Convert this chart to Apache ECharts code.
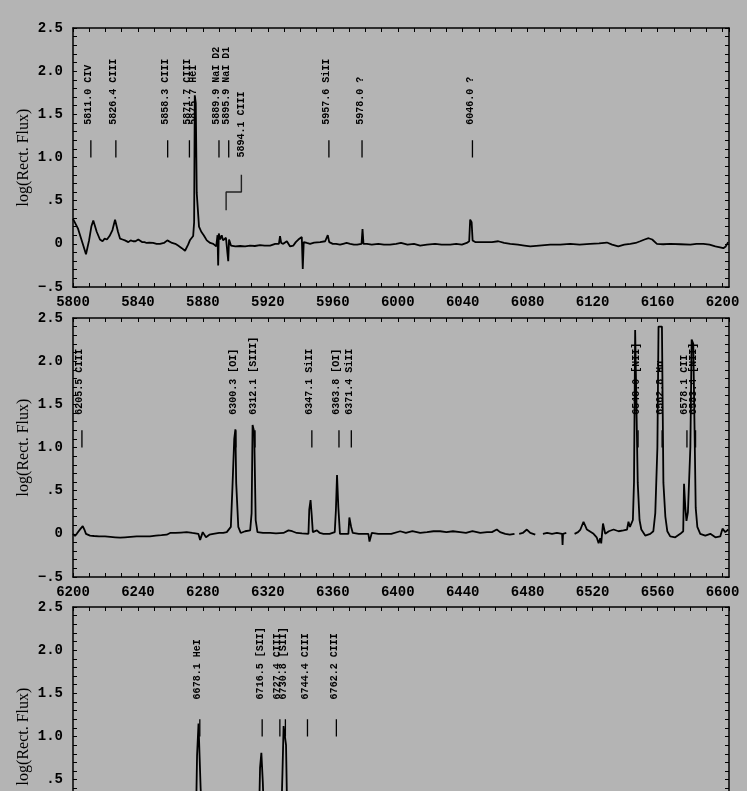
<!DOCTYPE html>
<html lang="en">
<head>
<meta charset="utf-8">
<title>Spectrum 5800-7000</title>
<script src="https://cdn.jsdelivr.net/npm/echarts@6.0.0/dist/echarts.min.js"></script>
<style>
  html, body { margin: 0; padding: 0; background: #b4b4b4; }
  #chart { width: 747px; height: 791px; }
</style>
</head>
<body>
<div id="chart"></div>
<script>
// wavelength ranges of the three panels
var ranges = [[5800, 6204], [6200, 6604], [6600, 7004]];

// rectified spectrum, log flux
var spec1 = [[5800,0.29],[5801.2,0.27],[5803,0.18],[5804.5,0.09],[5806,0.0],[5808,-0.12],[5809.9,0.04],[5811.3,0.2],[5812.5,0.27],[5814.6,0.14],[5816.6,0.05],[5818.2,0.03],[5819.5,0.06],[5820.9,0.05],[5822.5,0.09],[5824.3,0.16],[5825.9,0.28],[5827.7,0.14],[5829,0.06],[5830.5,0.05],[5832,0.04],[5834.1,0.02],[5835.5,0.04],[5837,0.03],[5838.5,0.03],[5840.2,0.05],[5842.5,0.02],[5844,0.02],[5845.4,0.01],[5847,0.015],[5849.3,0.01],[5851.5,0.0],[5853.6,0.0],[5856,0.01],[5858.1,0.04],[5861,0.01],[5863,0.0],[5864.7,-0.02],[5867,-0.05],[5869,-0.08],[5870.9,-0.01],[5872.1,0.045],[5874,0.09],[5874.6,0.25],[5875.0,1.72],[5875.6,1.63],[5876.2,0.59],[5876.9,0.59],[5877.6,0.2],[5879,0.14],[5880.5,0.1],[5882.4,0.04],[5884.5,0.01],[5886.4,0.0],[5888.2,-0.03],[5889,0.1],[5889.4,-0.25],[5889.8,0.12],[5890.6,0.05],[5891.6,0.1],[5892.4,0.04],[5893.2,0.06],[5894.2,0.07],[5895.2,0.08],[5895.6,-0.2],[5896.1,0.05],[5897.3,-0.02],[5900,-0.03],[5902.9,-0.025],[5906,-0.03],[5909.1,-0.02],[5912,-0.025],[5915.2,-0.015],[5918,-0.02],[5921.4,-0.02],[5924.5,0.0],[5926.8,0.0],[5927.5,0.09],[5928.2,0.01],[5929.5,0.0],[5931.7,0.03],[5933.7,-0.03],[5935.7,-0.02],[5937.2,0.02],[5938.8,0.05],[5940.9,0.08],[5941.5,-0.29],[5942.1,0.02],[5944,0.01],[5946,0.0],[5948.5,0.015],[5952.2,0.02],[5955.3,0.03],[5956.9,0.1],[5957.8,0.02],[5960,0.0],[5962,0.0],[5964.5,-0.01],[5966.4,0.0],[5968.5,0.01],[5970.7,0.0],[5973,-0.01],[5975,-0.01],[5977.7,0.0],[5978.3,0.17],[5978.9,0.0],[5981,0.0],[5984,-0.01],[5988,0.0],[5991.5,-0.01],[5995.3,-0.01],[5999,0.0],[6002,0.01],[6006,-0.01],[6010,0.0],[6013.8,-0.02],[6018,-0.01],[6023,0.0],[6027,-0.01],[6032.3,-0.01],[6036,0.0],[6039.5,-0.01],[6042.5,0.01],[6044,0.03],[6044.6,0.28],[6045.5,0.25],[6046.1,0.04],[6047.7,0.02],[6051,0.02],[6053.8,0.02],[6058,0.02],[6061.9,0.03],[6065.5,0.01],[6069.3,0.0],[6074,-0.01],[6078,-0.02],[6081.6,-0.03],[6087,-0.02],[6093.9,-0.01],[6100,-0.01],[6106.2,0.0],[6112,-0.01],[6118.5,0.0],[6124,0.005],[6128.8,0.015],[6132,-0.01],[6135.8,-0.03],[6139.5,-0.01],[6143.2,0.0],[6146.5,0.01],[6149.3,0.03],[6152,0.05],[6154.5,0.065],[6156.7,0.05],[6159.6,0.0],[6163.5,-0.005],[6167.8,0.0],[6174,-0.005],[6180.2,-0.01],[6184,0.0],[6188.2,0.0],[6192,-0.01],[6195.6,-0.03],[6198.5,-0.04],[6200.5,-0.05],[6202,-0.03],[6203.5,0.02]];

var spec2 = [[6200,0.0],[6201.2,-0.025],[6202.3,0.0],[6203.3,0.02],[6204.7,0.06],[6206,0.09],[6207,0.05],[6208,0.0],[6210.5,-0.02],[6213,-0.025],[6216,-0.03],[6219.7,-0.03],[6223,-0.035],[6226,-0.04],[6229,-0.045],[6232,-0.04],[6235.5,-0.035],[6239.2,-0.03],[6243,-0.03],[6247.4,-0.03],[6251,-0.02],[6254.5,-0.015],[6257.7,-0.01],[6259.8,0.01],[6263,0.01],[6266.5,0.015],[6270,0.02],[6273.5,0.01],[6277.2,0.0],[6278.3,-0.07],[6279.9,0.02],[6281.9,-0.04],[6284,-0.01],[6286.4,0.0],[6290,0.01],[6292.5,0.01],[6294.7,0.02],[6297.2,0.08],[6298.2,0.54],[6299.3,1.1],[6300.0,1.21],[6300.5,0.59],[6301.2,0.59],[6301.8,0.08],[6303.3,0.01],[6306,0.03],[6309.1,0.04],[6310.0,0.24],[6310.6,1.26],[6311.6,1.18],[6312.5,0.16],[6313.6,0.02],[6317,0.01],[6321.4,0.01],[6325,0.005],[6329.6,0.01],[6332.7,0.04],[6335,0.03],[6337.8,0.01],[6341,0.005],[6345,0.0],[6345.5,0.28],[6346.3,0.39],[6347.0,0.22],[6347.7,0.02],[6350.2,0.04],[6352,0.01],[6354.2,0.0],[6358,0.0],[6361.2,0.02],[6361.9,0.27],[6362.6,0.68],[6363.4,0.31],[6364.4,0.0],[6367,0.0],[6369.6,0.0],[6370.2,0.19],[6371.3,0.08],[6372.3,0.01],[6376,0.0],[6379,0.0],[6381.9,0.0],[6382.6,-0.09],[6384,0.01],[6388,0.0],[6392.2,0.0],[6396,0.0],[6401.5,0.03],[6405,0.01],[6409,0.03],[6413.8,0.01],[6418,0.02],[6422,0.03],[6426.1,0.03],[6430,0.02],[6434,0.03],[6438.4,0.02],[6442,0.01],[6446,0.03],[6450.8,0.01],[6455,0.02],[6458,0.02],[6461,0.05],[6463,0.02],[6466.2,0.0],[6469,-0.01],[6471.9,0.0],[6473,'-'],[6474.8,0.0],[6477,0.01],[6479.5,0.05],[6481.6,0.01],[6484.7,-0.01],[6487,'-'],[6489.4,0.0],[6492,0.01],[6495,0.0],[6498,0.01],[6501.2,0.0],[6501.5,-0.13],[6501.8,0.0],[6503.8,0.01],[6506,'-'],[6508.9,0.0],[6511,0.02],[6512.5,0.05],[6514.4,0.14],[6516.5,0.05],[6520.6,0.0],[6522.5,-0.04],[6523.7,-0.11],[6524.7,-0.05],[6525.3,-0.11],[6526.4,0.12],[6527.8,0.0],[6530,0.03],[6532.9,0.05],[6536,0.03],[6539,0.04],[6541.2,0.05],[6542.1,0.14],[6543,0.08],[6544.2,0.1],[6544.8,0.16],[6545.5,0.6],[6546.2,2.36],[6547.2,2.36],[6547.8,0.59],[6548.9,0.16],[6550,0.05],[6552.4,-0.02],[6555.5,0.0],[6557.4,0.03],[6558.6,0.24],[6559.9,1.0],[6560.6,2.4],[6562.7,2.4],[6563.6,0.59],[6564.8,0.2],[6566,0.03],[6567.8,-0.03],[6570.9,-0.04],[6574,0.0],[6575.8,0.03],[6576.3,0.58],[6577.1,0.3],[6577.8,0.15],[6578.7,0.25],[6580.2,1.0],[6581,2.25],[6582,2.2],[6582.8,1.2],[6583.5,0.3],[6584.5,0.08],[6586.3,0.0],[6589.4,-0.02],[6592.5,0.0],[6595.6,-0.04],[6598.6,-0.03],[6600,0.06],[6601.7,0.02],[6603.6,0.05]];

var spec3 = [[6600,0.02],[6610,0.0],[6620,0.02],[6630,0.0],[6640,0.01],[6650,0.0],[6660,0.01],[6670,0.02],[6674,0.05],[6675.8,0.1],[6676.4,0.78],[6677.3,1.15],[6678,1.15],[6678.6,0.4],[6679.5,0.08],[6682,0.02],[6690,0.01],[6700,0.0],[6710,0.02],[6714.6,0.08],[6715.2,0.64],[6716,0.81],[6716.9,0.47],[6717.6,0.08],[6722,0.03],[6726,0.03],[6728.3,0.1],[6729,0.58],[6729.7,1.12],[6730.4,1.14],[6731.2,0.9],[6731.9,0.1],[6735,0.02],[6745,0.01],[6755,0.0],[6770,0.01],[6790,0.0],[6820,0.01],[6850,0.0],[6900,0.0],[6950,0.01],[7004,0.0]];

// line identifications; the wavelength is the first word
var ids1 = ['5811.0 CIV', '5826.4 CIII', '5858.3 CIII', '5871.7 CIII', '5875.7 HeI', '5889.9 NaI D2', '5895.9 NaI D1', '5957.6 SiII', '5978.0 ?', '6046.0 ?'];
var ids2 = ['6205.5 CIII', '6300.3 [OI]', '6312.1 [SIII]', '6347.1 SiII', '6363.8 [OI]', '6371.4 SiII', '6548.0 [NII]', '6562.8 H\u03b1', '6578.1 CII', '6583.4 [NII]'];
var ids3 = ['6678.1 HeI', '6716.5 [SII]', '6727.4 CIII', '6730.8 [SII]', '6744.4 CIII', '6762.2 CIII'];

// the one label pulled aside, and its leader line
var offId1 = '5894.1 CIII';
var offAt1 = [5903.7, 1.0];
var leader1 = [[5903.7, 0.8], [5903.7, 0.6], [5894.3, 0.6], [5894.3, 0.39]];

var labelBase = [1.38, 1.38, 1.43];

var FONT_AX = '"Liberation Mono", "DejaVu Sans Mono", monospace';
var FONT_ID = 'bold 10px "Liberation Mono", monospace';
var chart = echarts.init(document.getElementById('chart'));

function yLabel(v) {
  var r = Math.round(v * 10);
  if (r % 5 !== 0) return '';
  if (r === 0) return '0';
  if (r === 5) return '.5';
  if (r === -5) return '\u2212.5';
  return (r / 10).toFixed(1);
}

function xLabel(v) {
  return (Math.round(v) % 40 === 0) ? String(Math.round(v)) : '';
}

var grids = [], xAxes = [], yAxes = [], series = [];
var tops = [28, 318, 607];

tops.forEach(function (t, i) {
  grids.push({left: 73, top: t, width: 656, height: 259, containLabel: false, outerBoundsMode: 'none'});
  ['bottom', 'top'].forEach(function (pos) {
    xAxes.push({
      gridIndex: i, type: 'value', position: pos,
      min: ranges[i][0], max: ranges[i][1], interval: 10,
      axisLine: {show: true, onZero: false, lineStyle: {color: '#000', width: 1.5}},
      axisTick: {show: true, inside: true, length: 4, lineStyle: {color: '#000', width: 1}},
      axisLabel: {show: pos === 'bottom', formatter: xLabel, color: '#000', fontFamily: FONT_AX, fontSize: 14, fontWeight: 'bold', margin: 8, showMaxLabel: false},
      splitLine: {show: false}
    });
  });
  ['left', 'right'].forEach(function (pos) {
    yAxes.push({
      gridIndex: i, type: 'value', position: pos,
      min: -0.5, max: 2.5, interval: 0.1,
      name: pos === 'left' ? 'log(Rect. Flux)' : '',
      nameLocation: 'middle', nameGap: 41, nameMoveOverlap: false,
      nameTextStyle: {color: '#000', fontFamily: '"Liberation Serif", "DejaVu Serif", serif', fontSize: 16},
      axisLine: {show: true, onZero: false, lineStyle: {color: '#000', width: 1.5}},
      axisTick: {show: true, inside: true, length: 4, lineStyle: {color: '#000', width: 1}},
      axisLabel: {show: pos === 'left', formatter: yLabel, color: '#000', fontFamily: FONT_AX, fontSize: 14, fontWeight: 'bold', margin: 10},
      splitLine: {show: false}
    });
  });
});

function specSeries(i, data) {
  return {
    type: 'line', xAxisIndex: 2 * i, yAxisIndex: 2 * i,
    data: data, symbol: 'none', connectNulls: false, animation: false,
    lineStyle: {color: '#000', width: 1.8}
  };
}

function idSeries(i, names, base) {
  return {
    type: 'custom', xAxisIndex: 2 * i, yAxisIndex: 2 * i, animation: false, clip: false,
    data: names.map(function (s) { return [parseFloat(s), base]; }),
    renderItem: function (params, api) {
      var x = api.value(0);
      var p = api.coord([x, api.value(1)]);
      var lo = api.coord([x, 1.0]), hi = api.coord([x, 1.2]);
      return {type: 'group', children: [
        {type: 'line', shape: {x1: lo[0], y1: lo[1], x2: hi[0], y2: hi[1]},
          style: {stroke: '#000', lineWidth: 1.3}},
        {type: 'text', x: p[0] - 2, y: p[1], rotation: Math.PI / 2,
          style: {text: names[params.dataIndex], font: FONT_ID,
            fill: '#000', align: 'left', verticalAlign: 'middle'}}
      ]};
    }
  };
}

series.push(specSeries(0, spec1));
series.push(specSeries(1, spec2));
series.push(specSeries(2, spec3));
series.push(idSeries(0, ids1, labelBase[0]));
series.push(idSeries(1, ids2, labelBase[1]));
series.push(idSeries(2, ids3, labelBase[2]));

// pulled-aside CIII label and its bent leader
series.push({
  type: 'custom', xAxisIndex: 0, yAxisIndex: 0, animation: false, clip: false,
  data: [offAt1],
  renderItem: function (params, api) {
    var p = api.coord([api.value(0), api.value(1)]);
    return {type: 'text', x: p[0], y: p[1], rotation: Math.PI / 2,
      style: {text: offId1, font: FONT_ID, fill: '#000', align: 'left', verticalAlign: 'middle'}};
  }
});
series.push({
  type: 'line', xAxisIndex: 0, yAxisIndex: 0, data: leader1, symbol: 'none', animation: false,
  lineStyle: {color: '#222', width: 1.4}
});

chart.setOption({
  backgroundColor: '#b4b4b4',
  animation: false,
  grid: grids,
  xAxis: xAxes,
  yAxis: yAxes,
  series: series
});
</script>
</body>
</html>
